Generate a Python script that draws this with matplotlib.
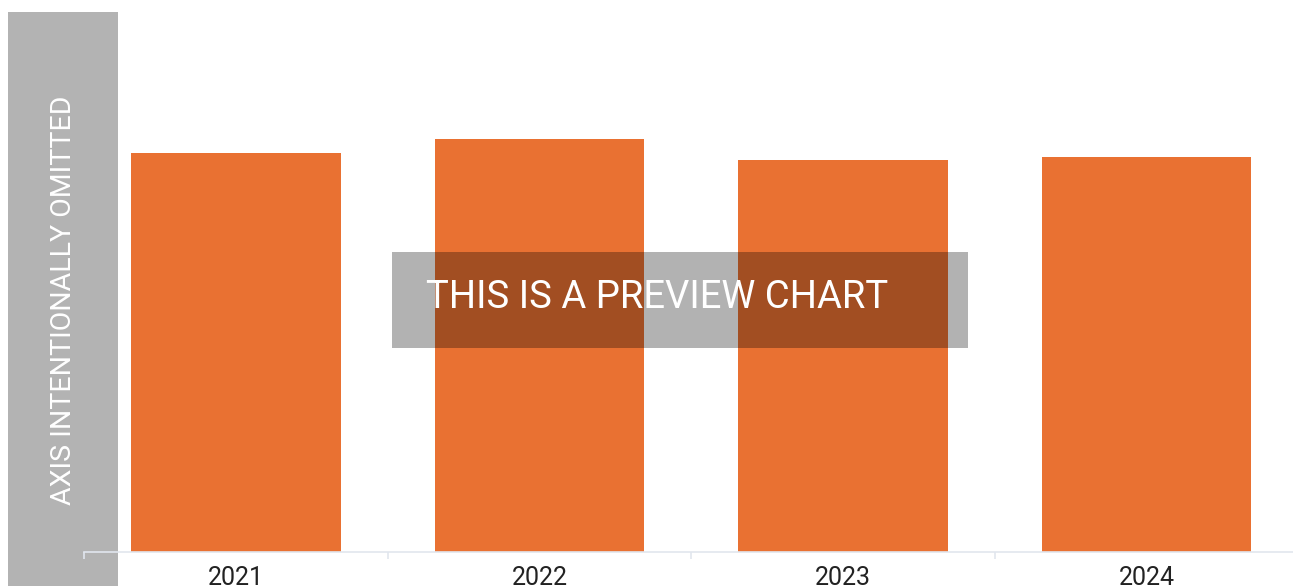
import matplotlib
matplotlib.use("Agg")
import matplotlib.pyplot as plt
from matplotlib.patches import Rectangle

years = ["2021", "2022", "2023", "2024"]
values = [399, 413, 392, 395]

W, H = 1293, 586
fig = plt.figure(figsize=(W / 100, H / 100), dpi=100)

def px(x0, y0, x1, y1):
    # pixel box (top-left origin) -> figure fraction rect
    return [x0 / W, 1 - y1 / H, (x1 - x0) / W, (y1 - y0) / H]

# axis placeholder panel (behind the axes)
fig.patches.append(Rectangle((8 / W, 0), 110 / W, 1 - 12 / H,
                             transform=fig.transFigure, facecolor="#b3b3b3",
                             edgecolor="none", zorder=0))
fig.text(63.5 / W, 1 - 300 / H, "AXIS INTENTIONALLY OMITTED", rotation=90,
         ha="center", va="center", color="white", fontsize=20.5,
         family="Roboto", zorder=1)

ax = fig.add_axes(px(84, 12, 1298.5, 552))
ax.set_zorder(2)
ax.patch.set_alpha(0)
ax.bar(range(len(years)), values, width=0.69, color="#E97132", zorder=2)
ax.set_xlim(-0.5, len(years) - 0.5)
ax.set_ylim(0, 540)
ax.set_yticks([])
for s in ["top", "right", "left"]:
    ax.spines[s].set_visible(False)
ax.spines["bottom"].set_color("#e1e6ee")
ax.spines["bottom"].set_linewidth(1.2)
ax.set_xticks([i - 0.5 for i in range(len(years) + 1)], minor=False)
ax.set_xticklabels([])
ax.tick_params(axis="x", length=5, color="#e1e6ee", width=1.2, direction="out")
ax.set_xticks(range(len(years)), minor=True)
ax.set_xticklabels(years, minor=True, fontsize=18, family="Roboto",
                   color="#222222")
ax.tick_params(axis="x", which="minor", length=0, pad=10)

# preview banner
fig.patches.append(Rectangle((392 / W, 1 - 348 / H), 576 / W, 96 / H,
                             transform=fig.transFigure, facecolor="black",
                             alpha=0.3, edgecolor="none", zorder=5))
fig.text(657.5 / W, 1 - 297 / H, "THIS IS A PREVIEW CHART", ha="center",
         va="center", color="white", fontsize=27.5, family="Roboto",
         zorder=6)

fig.savefig("out.png", dpi=100)
